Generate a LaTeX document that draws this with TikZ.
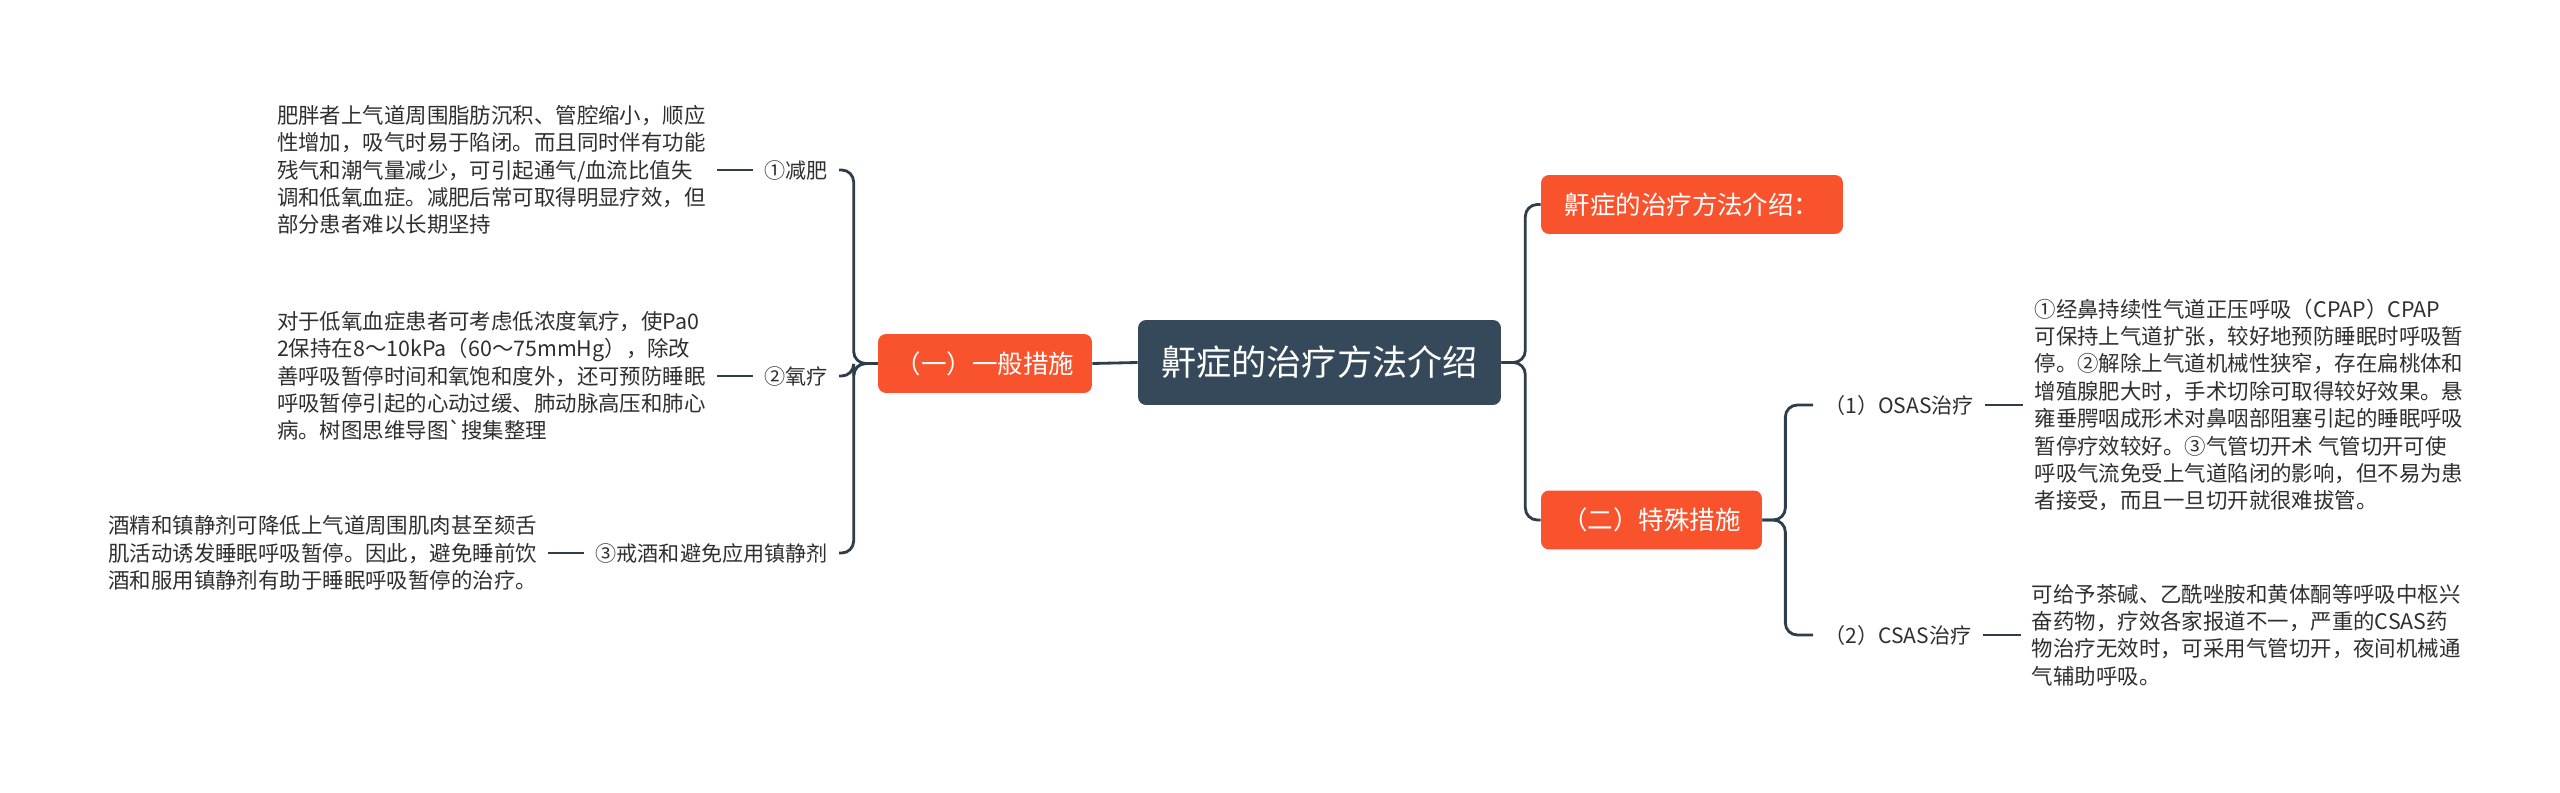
\documentclass[tikz,border=0pt]{standalone}
\usepackage{fontspec}
\setmainfont{Noto Sans CJK SC}[Ligatures=TeXOff]
\usetikzlibrary{positioning}

\definecolor{rootblue}{HTML}{36495A}
\definecolor{branchred}{HTML}{F9532D}
\definecolor{linegray}{HTML}{2E3D4C}
\definecolor{textgray}{HTML}{2F2F2F}

\tikzset{
  rootbox/.style={fill=rootblue, text=white, rounded corners=0.16cm,
    minimum width=7.26cm, minimum height=1.7cm, font=\fontsize{20}{24}\selectfont},
  branchbox/.style={fill=branchred, text=white, rounded corners=0.16cm,
    minimum height=1.18cm, font=\fontsize{14.5}{18}\selectfont},
  leaflabel/.style={text=textgray, inner sep=0.22cm, font=\fontsize{12}{15}\selectfont},
  leaftext/.style={text=textgray, inner sep=0.22cm, align=left,
    font=\fontsize{12.2}{15.6}\selectfont},
  conn/.style={draw=linegray, line width=1.6pt, rounded corners=0.24cm},
}

\begin{document}
\begin{tikzpicture}[x=0.02cm, y=-0.02cm]
  \useasboundingbox (0,0) rectangle (2560,793);

  % root and the four branches
  \node[rootbox] (root) at (1319.5,362.5) {鼾症的治疗方法介绍};
  \node[branchbox, minimum width=4.28cm] (general) at (985,363.5) {（一）一般措施};
  \node[branchbox, minimum width=6.04cm] (intro) at (1692,204.5) {鼾症的治疗方法介绍：};
  \node[branchbox, minimum width=4.42cm] (special) at (1651.5,520) {（二）特殊措施};

  % left side -- general measures
  \node[leaflabel, anchor=east] (diet) at (839,170) {①减肥};
  \node[leaflabel, anchor=east] (oxygen) at (839,376) {②氧疗};
  \node[leaflabel, anchor=east] (alcohol) at (839,553) {③戒酒和避免应用镇静剂};

  \node[leaftext, left=0.72cm of diet] (dietText)
    {肥胖者上气道周围脂肪沉积、管腔缩小，顺应\\
     性增加，吸气时易于陷闭。而且同时伴有功能\\
     残气和潮气量减少，可引起通气/血流比值失\\
     调和低氧血症。减肥后常可取得明显疗效，但\\
     部分患者难以长期坚持};
  \node[leaftext, left=0.72cm of oxygen] (oxygenText)
    {对于低氧血症患者可考虑低浓度氧疗，使Pa0\\
     2保持在8～10kPa（60～75mmHg），除改\\
     善呼吸暂停时间和氧饱和度外，还可预防睡眠\\
     呼吸暂停引起的心动过缓、肺动脉高压和肺心\\
     病。树图思维导图`搜集整理};
  \node[leaftext, left=0.72cm of alcohol] (alcoholText)
    {酒精和镇静剂可降低上气道周围肌肉甚至颏舌\\
     肌活动诱发睡眠呼吸暂停。因此，避免睡前饮\\
     酒和服用镇静剂有助于睡眠呼吸暂停的治疗。};

  % right side -- special measures
  \node[leaflabel, anchor=west] (osas) at (1813,405) {（1）OSAS治疗};
  \node[leaflabel, anchor=west] (csas) at (1813,635) {（2）CSAS治疗};

  \node[leaftext, right=0.76cm of osas] (osasText)
    {①经鼻持续性气道正压呼吸（CPAP）CPAP\\
     可保持上气道扩张，较好地预防睡眠时呼吸暂\\
     停。②解除上气道机械性狭窄，存在扁桃体和\\
     增殖腺肥大时，手术切除可取得较好效果。悬\\
     雍垂腭咽成形术对鼻咽部阻塞引起的睡眠呼吸\\
     暂停疗效较好。③气管切开术 气管切开可使\\
     呼吸气流免受上气道陷闭的影响，但不易为患\\
     者接受，而且一旦切开就很难拔管。};
  \node[leaftext, right=0.76cm of csas] (csasText)
    {可给予茶碱、乙酰唑胺和黄体酮等呼吸中枢兴\\
     奋药物，疗效各家报道不一，严重的CSAS药\\
     物治疗无效时，可采用气管切开，夜间机械通\\
     气辅助呼吸。};

  % connectors
  \draw[conn] (root.west) -- (general.east);
  \draw[conn] (root.east) -- ++(24,0) |- (intro.west);
  \draw[conn] (root.east) -- ++(24,0) |- (special.west);

  \draw[conn] (general.west) -- ++(-24,0) |- (diet.east);
  \draw[conn] (general.west) -- ++(-24,0) |- (oxygen.east);
  \draw[conn] (general.west) -- ++(-24,0) |- (alcohol.east);
  \draw[conn] (diet.west) -- (dietText.east);
  \draw[conn] (oxygen.west) -- (oxygenText.east);
  \draw[conn] (alcohol.west) -- (alcoholText.east);

  \draw[conn] (special.east) -- ++(23,0) |- (osas.west);
  \draw[conn] (special.east) -- ++(23,0) |- (csas.west);
  \draw[conn] (osas.east) -- (osasText.west);
  \draw[conn] (csas.east) -- (csasText.west);

\end{tikzpicture}
\end{document}
